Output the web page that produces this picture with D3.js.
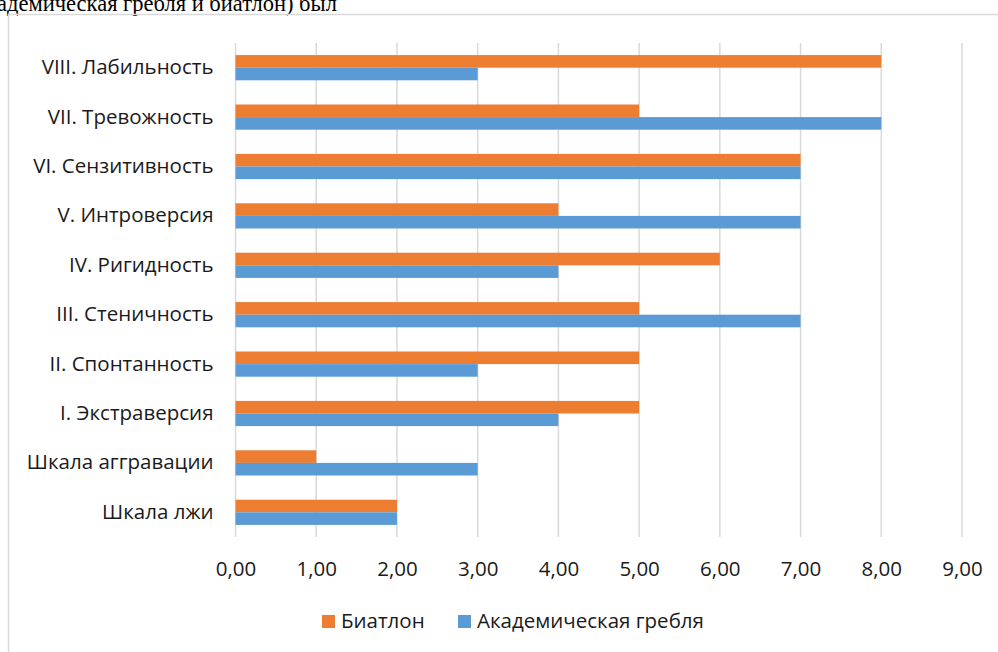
<!DOCTYPE html>
<html>
<head>
<meta charset="utf-8">
<script src="https://cdn.jsdelivr.net/npm/d3@7"></script>
<style>
  body { margin: 0; background: #fff; }
  svg { display: block; }
</style>
</head>
<body>
<div id="chart"></div>
<script>
// categories listed bottom to top as in the source sheet
const categories = [
  "Шкала лжи",
  "Шкала аггравации",
  "I. Экстраверсия",
  "II. Спонтанность",
  "III. Стеничность",
  "IV. Ригидность",
  "V. Интроверсия",
  "VI. Сензитивность",
  "VII. Тревожность",
  "VIII. Лабильность"
];
const biathlon = [2, 1, 5, 5, 5, 6, 4, 7, 5, 8];
const rowing = [2, 3, 4, 3, 7, 4, 7, 7, 8, 3];
const xTicks = [0, 1, 2, 3, 4, 5, 6, 7, 8, 9];
const seriesNames = ["Биатлон", "Академическая гребля"];
const colors = ["#ED7D31", "#5B9BD5"];

const W = 998, H = 652;
const svg = d3.select("#chart").append("svg").attr("width", W).attr("height", H);
const font = "'Open Sans', sans-serif";
const fs = "20.5px";

// clipped text of the page above the chart
svg.append("text")
  .attr("x", -3).attr("y", 10.5)
  .style("font-family", "'Liberation Serif', serif")
  .style("font-size", "22.5px")
  .text("адемическая гребля и биатлон) был");

// chart frame
svg.append("path")
  .attr("d", "M8.5," + H + "V14.5H" + W)
  .attr("fill", "none")
  .attr("stroke", "#D9D9D9")
  .attr("stroke-width", 1.5);

const plot = { left: 235.5, right: 962, top: 43, bottom: 537 };

const x = d3.scaleLinear().domain([0, 9]).range([plot.left, plot.right]);
const y = d3.scaleBand()
  .domain(categories.slice().reverse())
  .range([plot.top, plot.bottom])
  .paddingInner(0.49).paddingOuter(0.245);
const sub = d3.scaleBand().domain([0, 1]).range([0, y.bandwidth()]);

// gridlines
svg.append("g")
  .selectAll("line").data(xTicks).join("line")
  .attr("x1", d => x(d)).attr("x2", d => x(d))
  .attr("y1", plot.top).attr("y2", plot.bottom)
  .attr("stroke", "#D9D9D9").attr("stroke-width", 1.5);

// bars
const rows = categories.map((c, i) => ({ c, vals: [biathlon[i], rowing[i]] }));
svg.append("g")
  .selectAll("g").data(rows).join("g")
  .attr("transform", d => "translate(0," + y(d.c) + ")")
  .selectAll("rect").data(d => d.vals).join("rect")
  .attr("x", x(0))
  .attr("y", (d, i) => sub(i))
  .attr("width", d => x(d) - x(0))
  .attr("height", sub.bandwidth())
  .attr("fill", (d, i) => colors[i]);

// category axis labels
const yAxis = svg.append("g")
  .attr("transform", "translate(" + (plot.left - 22) + ",0)")
  .call(d3.axisLeft(y).tickSize(0).tickPadding(0));
yAxis.select(".domain").remove();
yAxis.selectAll("text")
  .style("font-family", font).style("font-size", fs).attr("fill", "#1a1a1a");

// value axis
const fmt = d => d3.format(".2f")(d).replace(".", ",");
const xAxis = svg.append("g")
  .attr("transform", "translate(0," + plot.bottom + ")")
  .call(d3.axisBottom(x).tickValues(xTicks).tickFormat(fmt).tickSize(0).tickPadding(24));
xAxis.select(".domain").remove();
xAxis.selectAll("text")
  .style("font-family", font).style("font-size", fs).attr("fill", "#1a1a1a");

// legend
const legendX = [322, 458];
const legend = svg.append("g").selectAll("g").data(seriesNames).join("g")
  .attr("transform", (d, i) => "translate(" + legendX[i] + ",615)");
legend.append("rect").attr("width", 13).attr("height", 13).attr("fill", (d, i) => colors[i]);
legend.append("text")
  .attr("x", 19).attr("y", 13)
  .style("font-family", font).style("font-size", "20.5px").attr("fill", "#1a1a1a")
  .text(d => d);
</script>
</body>
</html>
